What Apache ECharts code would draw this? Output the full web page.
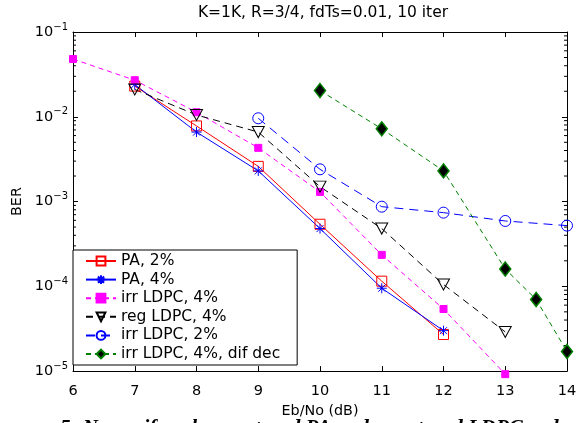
<!DOCTYPE html>
<html><head><meta charset="utf-8">
<script src="https://cdn.jsdelivr.net/npm/echarts@6/dist/echarts.min.js"></script>
<style>html,body{margin:0;padding:0;background:#fff}#c{width:585px;height:423px}</style>
</head><body><div id="c"></div>
<script>
// ---- data ----
const titleText = 'K=1K, R=3/4, fdTs=0.01, 10 iter';
const xLabel = 'Eb/No (dB)';
const yLabel = 'BER';
const seriesNames = ['PA, 2%', 'PA, 4%', 'irr LDPC, 4%', 'reg LDPC, 4%', 'irr LDPC, 2%', 'irr LDPC, 4%, dif dec'];

const paX = [7, 8, 9, 10, 11, 12];
const pa2 = [0.023, 0.0078, 0.0026, 5.4e-4, 1.15e-4, 2.7e-5];
const pa4 = [0.024, 0.0066, 0.0023, 4.8e-4, 9.5e-5, 3.0e-5];

const irr4X = [6, 7, 8, 9, 10, 11, 12, 13];
const irr4 = [0.048, 0.027, 0.0113, 0.0043, 0.0013, 2.35e-4, 5.4e-5, 9.2e-6];

const reg4X = [7, 8, 9, 10, 11, 12, 13];
const reg4 = [0.021, 0.0105, 0.0066, 0.0015, 4.8e-4, 1.05e-4, 2.9e-5];

const irr2X = [9, 10, 11, 12, 13, 14];
const irr2 = [0.0096, 0.0024, 8.7e-4, 7.4e-4, 5.9e-4, 5.2e-4];

const difX = [10, 11, 12, 13, 13.5, 14];
const dif = [0.0204, 0.0072, 0.0023, 1.6e-4, 7.0e-5, 1.7e-5];

const minorMantissas = [2, 3, 4, 5, 6, 7, 8, 9];
const minorDecades = [1e-5, 1e-4, 1e-3, 1e-2];

const captionText = '5: Nonuniformly punctured PA and punctured LDPC codes';

// ---- build ----
const pair = (xs, ys) => xs.map((x, i) => [x, ys[i]]);
const minorTicks = [];
minorDecades.forEach(d => minorMantissas.forEach(m => minorTicks.push([6, m * d])));

const FONT = '"DejaVu Sans", sans-serif';
const chart = echarts.init(document.getElementById('c'));

const axisCommon = {
  axisLine: {show: true, lineStyle: {color: '#000', width: 1}},
  axisTick: {show: true, inside: true, length: 5, lineStyle: {color: '#000'}},
  splitLine: {show: false}
};

chart.setOption({
  animation: false,
  backgroundColor: '#fff',
  title: {
    text: titleText, left: 318, top: 0, textAlign: 'center',
    textStyle: {fontFamily: FONT, fontSize: 15.5, fontWeight: 'normal', color: '#000'}
  },
  grid: {left: 73, right: 18, top: 32, bottom: 51, containLabel: false},
  legend: {
    orient: 'vertical', left: 73, top: 250,
    data: seriesNames,
    backgroundColor: '#fff', borderColor: '#000', borderWidth: 1,
    padding: [3, 17, 3, 12], itemWidth: 30, itemHeight: 11, itemGap: 2.6,
    textStyle: {fontFamily: FONT, fontSize: 15.5, color: '#000'},
    selectedMode: false
  },
  xAxis: [
    Object.assign({}, axisCommon, {
      type: 'value', min: 6, max: 14, interval: 1, position: 'bottom',
      name: xLabel, nameLocation: 'middle', nameGap: 31,
      nameTextStyle: {fontFamily: FONT, fontSize: 14.3, color: '#000'},
      axisLabel: {fontFamily: FONT, fontSize: 14.5, color: '#000', margin: 13}
    }),
    Object.assign({}, axisCommon, {
      type: 'value', min: 6, max: 14, interval: 1, position: 'top',
      axisLabel: {show: false}
    })
  ],
  yAxis: [
    Object.assign({}, axisCommon, {
      type: 'log', logBase: 10, min: 1e-5, max: 1e-1, position: 'left',
      name: yLabel, nameLocation: 'middle', nameGap: 40, nameRotate: 90,
      nameTextStyle: {fontFamily: FONT, fontSize: 14.3, color: '#000'},
      axisLabel: {
        margin: 5, color: '#000',
        formatter: v => '{b|10}{s|\u2212' + Math.round(-Math.log10(v)) + '}',
        rich: {
          b: {fontFamily: FONT, fontSize: 14.5, color: '#000'},
          s: {fontFamily: FONT, fontSize: 10, color: '#000', padding: [0, 0, 10, 0]}
        }
      }
    }),
    Object.assign({}, axisCommon, {
      type: 'log', logBase: 10, min: 1e-5, max: 1e-1, position: 'right',
      axisLabel: {show: false}
    })
  ],
  series: [
    {
      name: seriesNames[0], type: 'line', data: pair(paX, pa2),
      symbol: 'rect', symbolSize: 10,
      itemStyle: {color: 'rgba(0,0,0,0)', borderColor: '#ff0000', borderWidth: 1},
      lineStyle: {color: '#ff0000', width: 1}, z: 3
    },
    {
      name: seriesNames[1], type: 'line', data: pair(paX, pa4),
      symbol: 'path://M5,0L5,10M0,5L10,5M1.5,1.5L8.5,8.5M8.5,1.5L1.5,8.5', symbolSize: 10,
      itemStyle: {color: 'rgba(0,0,0,0)', borderColor: '#0000ff', borderWidth: 1},
      lineStyle: {color: '#0000ff', width: 1}, z: 3
    },
    {
      name: seriesNames[2], type: 'line', data: pair(irr4X, irr4), clip: false,
      symbol: 'rect', symbolSize: 7,
      itemStyle: {color: '#ff00ff', borderColor: '#ff00ff', borderWidth: 1},
      lineStyle: {color: '#ff00ff', width: 1, type: [5, 4]}, z: 3
    },
    {
      name: seriesNames[3], type: 'line', data: pair(reg4X, reg4),
      symbol: 'path://M0,0L10,0L5,9Z', symbolSize: [12, 11],
      itemStyle: {color: 'rgba(0,0,0,0)', borderColor: '#000', borderWidth: 1},
      lineStyle: {color: '#000', width: 1, type: [7, 5]}, z: 3
    },
    {
      name: seriesNames[4], type: 'line', data: pair(irr2X, irr2),
      symbol: 'circle', symbolSize: 11,
      itemStyle: {color: 'rgba(0,0,0,0)', borderColor: '#0000ff', borderWidth: 1},
      lineStyle: {color: '#0000ff', width: 1, type: [9, 6]}, z: 3
    },
    {
      name: seriesNames[5], type: 'line', data: pair(difX, dif),
      symbol: 'diamond', symbolSize: [11, 14],
      itemStyle: {color: '#000', borderColor: '#008000', borderWidth: 1.5},
      lineStyle: {color: '#008000', width: 1, type: [5, 4]}, z: 3
    },
    {
      type: 'custom', silent: true, data: minorTicks, z: 1,
      renderItem: (params, api) => {
        const p0 = api.coord([6, api.value(1)]);
        const p1 = api.coord([14, api.value(1)]);
        const st = {stroke: '#000', lineWidth: 1};
        return {type: 'group', children: [
          {type: 'line', shape: {x1: p0[0], y1: p0[1], x2: p0[0] + 3, y2: p0[1]}, style: st},
          {type: 'line', shape: {x1: p1[0] - 3, y1: p1[1], x2: p1[0], y2: p1[1]}, style: st}
        ]};
      }
    }
  ],
  graphic: [{
    type: 'text', left: 60, top: 418, silent: true,
    style: {text: captionText, fontFamily: '"Liberation Serif", serif', fontSize: 21,
            fontWeight: 'bold', fontStyle: 'italic', fill: '#000'}
  }]
});
</script></body></html>
